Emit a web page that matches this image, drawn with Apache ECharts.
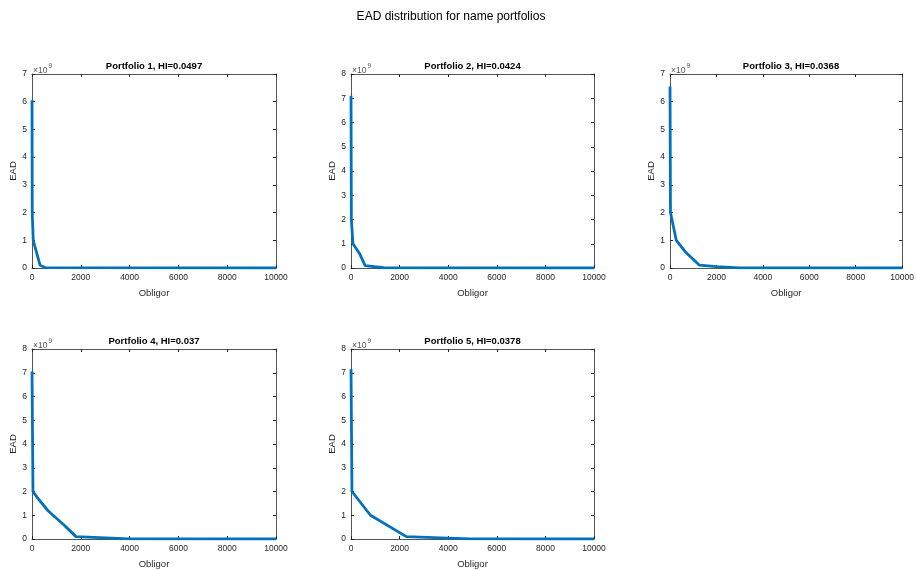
<!DOCTYPE html>
<html>
<head>
<meta charset="utf-8">
<script src="https://cdn.jsdelivr.net/npm/echarts@6/dist/echarts.min.js"></script>
<style>
  html, body { margin: 0; padding: 0; background: #ffffff; overflow: hidden; }
  #chart { width: 917px; height: 570px; }
</style>
</head>
<body>
<div id="chart"></div>
<script>
// Sorted exposure-at-default curves (EAD in units of 1e9) for five name portfolios
const portfolioTitles = [
  'Portfolio 1, HI=0.0497',
  'Portfolio 2, HI=0.0424',
  'Portfolio 3, HI=0.0368',
  'Portfolio 4, HI=0.037',
  'Portfolio 5, HI=0.0378'
];

const obligor1 = [1, 10, 50, 330, 560, 10000];
const ead1     = [6.05, 2.0, 1.0, 0.1, 0.01, 0.0];

const obligor2 = [1, 15, 80, 350, 580, 1350, 10000];
const ead2     = [7.1, 2.0, 1.0, 0.6, 0.1, 0.01, 0.0];

const obligor3 = [1, 20, 270, 700, 1270, 2000, 3000, 10000];
const ead3     = [6.55, 2.0, 1.0, 0.55, 0.1, 0.05, 0.005, 0.0];

const obligor4 = [1, 40, 250, 650, 860, 1300, 1800, 4000, 10000];
const ead4     = [7.05, 2.0, 1.7, 1.2, 1.0, 0.6, 0.1, 0.005, 0.0];

const obligor5 = [1, 40, 800, 2280, 4000, 4900, 10000];
const ead5     = [7.15, 2.0, 1.0, 0.1, 0.04, 0.005, 0.0];

const xTicks = [0, 2000, 4000, 6000, 8000, 10000];
const yMaxes = [7, 8, 7, 8, 8];

const obligors = [obligor1, obligor2, obligor3, obligor4, obligor5];
const eads = [ead1, ead2, ead3, ead4, ead5];

// Panel placement (pixels)
const panels = [
  { left: 32,  top: 74,  width: 244, height: 194 },
  { left: 351, top: 74,  width: 243, height: 194 },
  { left: 670, top: 74,  width: 242, height: 194 },
  { left: 32,  top: 349, width: 244, height: 193 },
  { left: 351, top: 349, width: 243, height: 193 }
];

const FONT = '"Liberation Sans", Arial, Helvetica, sans-serif';
const AX = '#262626';
const BOX = '#555555';

const grids = [], xAxes = [], yAxes = [], series = [], titles = [], graphics = [];

titles.push({
  text: 'EAD distribution for name portfolios',
  left: 451, top: 11, textAlign: 'center', padding: 0,
  textStyle: { fontFamily: FONT, fontSize: 12, fontWeight: 'normal', color: '#000' }
});

panels.forEach((p, i) => {
  grids.push({ left: p.left, top: p.top, width: p.width, height: p.height, containLabel: false });
  const tick = { show: true, inside: true, length: 3, lineStyle: { color: AX, width: 1 } };
  const line = { show: true, onZero: false, lineStyle: { color: BOX, width: 1 } };
  // bottom x axis with labels
  xAxes.push({
    gridIndex: i, type: 'value', position: 'bottom', min: 0, max: 10000, interval: 2000,
    axisLine: line, axisTick: tick, splitLine: { show: false },
    axisLabel: { fontFamily: FONT, fontSize: 8.5, color: AX, margin: 5,
      formatter: v => (xTicks.indexOf(v) >= 0 ? String(v) : '') },
    name: 'Obligor', nameLocation: 'middle', nameGap: 20,
    nameTextStyle: { fontFamily: FONT, fontSize: 9.5, color: AX }
  });
  // top box edge with mirrored ticks
  xAxes.push({
    gridIndex: i, type: 'value', position: 'top', min: 0, max: 10000, interval: 2000,
    axisLine: line, axisTick: tick, axisLabel: { show: false }, splitLine: { show: false }
  });
  yAxes.push({
    gridIndex: i, type: 'value', position: 'left', min: 0, max: yMaxes[i], interval: 1,
    axisLine: line, axisTick: tick, splitLine: { show: false },
    axisLabel: { fontFamily: FONT, fontSize: 8.5, color: AX, margin: 5 },
    name: 'EAD', nameLocation: 'middle', nameGap: 13, nameRotate: 90,
    nameTextStyle: { fontFamily: FONT, fontSize: 9.5, color: AX }
  });
  yAxes.push({
    gridIndex: i, type: 'value', position: 'right', min: 0, max: yMaxes[i], interval: 1,
    axisLine: line, axisTick: tick, axisLabel: { show: false }, splitLine: { show: false }
  });

  series.push({
    type: 'line', xAxisIndex: 2 * i, yAxisIndex: 2 * i,
    data: obligors[i].map((x, k) => [x, eads[i][k]]),
    showSymbol: false, symbol: 'none',
    lineStyle: { color: '#0072BD', width: 2.8 },
    clip: true, animation: false
  });

  titles.push({
    text: portfolioTitles[i],
    left: p.left + p.width / 2, top: p.top - 13, textAlign: 'center', padding: 0,
    textStyle: { fontFamily: FONT, fontSize: 9.5, fontWeight: 'bold', color: '#000' }
  });

  // exponent marker above the y axis
  graphics.push({
    type: 'text', left: p.left + 1, top: p.top - 11,
    style: {
      text: '{a|×10}{b|9}',
      rich: {
        a: { fontFamily: FONT, fontSize: 8.5, fill: '#555', verticalAlign: 'bottom' },
        b: { fontFamily: FONT, fontSize: 6.5, fill: '#555', verticalAlign: 'top', padding: [0, 0, 5, 1] }
      }
    }
  });
});

const chart = echarts.init(document.getElementById('chart'), null, { renderer: 'canvas' });
chart.setOption({
  backgroundColor: '#ffffff',
  animation: false,
  title: titles,
  grid: grids,
  xAxis: xAxes,
  yAxis: yAxes,
  series: series,
  graphic: graphics
});
</script>
</body>
</html>
